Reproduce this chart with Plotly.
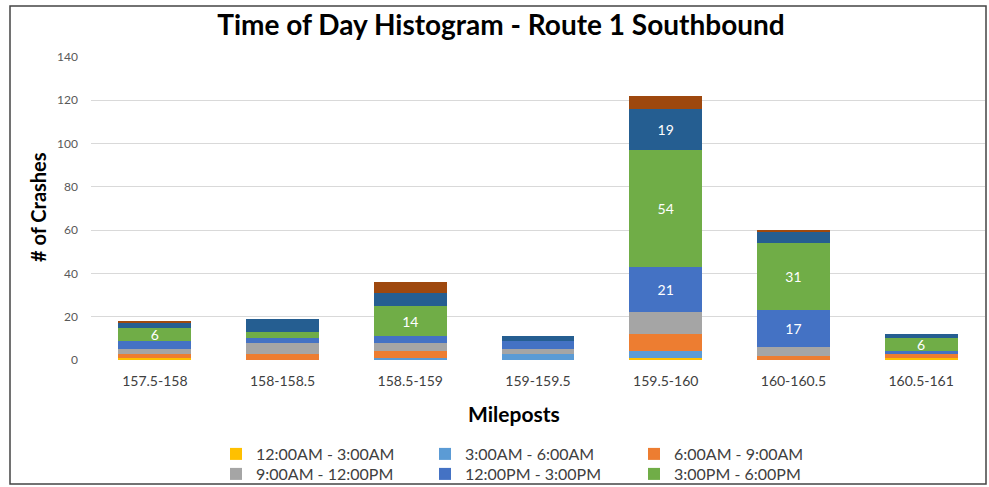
import plotly.graph_objects as go

categories = ["157.5-158", "158-158.5", "158.5-159", "159-159.5", "159.5-160", "160-160.5", "160.5-161"]

series_names = [
    "12:00AM - 3:00AM", "3:00AM - 6:00AM", "6:00AM - 9:00AM", "9:00AM - 12:00PM",
    "12:00PM - 3:00PM", "3:00PM - 6:00PM", "6:00PM - 9:00PM", "9:00PM - 12:00AM",
]
am_12_3 = [1, 0, 0, 0, 1, 0, 1]
am_3_6 = [0, 0, 1, 3, 3, 0, 0]
am_6_9 = [2, 3, 3, 0, 8, 2, 2]
am_9_pm_12 = [2, 5, 4, 2, 10, 4, 0]
pm_12_3 = [4, 2, 3, 4, 21, 17, 1]
pm_3_6 = [6, 3, 14, 0, 54, 31, 6]
pm_6_9 = [2, 6, 6, 2, 19, 5, 2]
pm_9_am_12 = [1, 0, 5, 0, 6, 1, 0]
series_values = [am_12_3, am_3_6, am_6_9, am_9_pm_12, pm_12_3, pm_3_6, pm_6_9, pm_9_am_12]

colors = ["#FFC000", "#5B9BD5", "#ED7D31", "#A5A5A5", "#4472C4", "#70AD47", "#255E91", "#9E480E"]

# which segments carry a data label
labeled = {
    "12:00PM - 3:00PM": ["159.5-160", "160-160.5"],
    "3:00PM - 6:00PM": ["157.5-158", "158.5-159", "159.5-160", "160-160.5", "160.5-161"],
    "6:00PM - 9:00PM": ["159.5-160"],
}

FONT = "Lato"
W, H = 989, 487
L, R, T, B = 91, 4, 57, 127
pw, ph = W - L - R, H - T - B

# legend grid: 3 columns x 2 visible rows (last two entries are cropped off in the reference)
leg_cols_x = [216, 425, 634]
leg_rows_top = [437, 457]
legend_ids = ["legend", "legend2", "legend3", "legend4", "legend5", "legend6", None, None]

fig = go.Figure()
for name, vals, col, lg in zip(series_names, series_values, colors, legend_ids):
    lab = labeled.get(name, [])
    text = [str(v) if (c in lab and v > 0) else "" for c, v in zip(categories, vals)]
    kw = dict(legend=lg) if lg else dict(showlegend=False)
    fig.add_trace(go.Bar(
        x=categories, y=vals, name=name, marker=dict(color=col, line=dict(width=0)),
        text=text, textposition="inside", insidetextanchor="middle", textangle=0,
        textfont=dict(color="white", size=14, family=FONT), constraintext="none",
        **kw,
    ))


def px(x):
    return (x - L) / pw


def py(y):
    return (H - B - y) / ph


leg_common = dict(orientation="v", yanchor="top", xanchor="left", traceorder="normal",
                  xref="container", yref="container",
                  font=dict(family=FONT, size=16, color="#404040"),
                  bgcolor="rgba(0,0,0,0)", tracegroupgap=0, itemwidth=30)

legends = {}
for i, lg in enumerate(legend_ids[:6]):
    r, c = divmod(i, 3)
    legends[lg] = dict(x=leg_cols_x[c] / W, y=1 - leg_rows_top[r] / H, **leg_common)

fig.update_layout(
    width=W, height=H,
    margin=dict(l=L, r=R, t=T, b=B, autoexpand=False),
    barmode="stack", bargap=0.43,
    plot_bgcolor="white", paper_bgcolor="white",
    font=dict(family=FONT, color="#404040"),
    title=dict(text="<b>Time of Day Histogram - Route 1 Southbound</b>",
               x=501 / W, xanchor="center", xref="container",
               y=1 - 25 / H, yanchor="middle", yref="container",
               font=dict(family=FONT, size=28, color="#000000")),
    xaxis=dict(showgrid=False, showline=False, ticks="", zeroline=False, automargin=False,
               tickfont=dict(family=FONT, size=14, color="#404040"), ticklabelstandoff=11),
    yaxis=dict(range=[0, 140], dtick=20, tick0=0, showgrid=True, gridcolor="#D9D9D9",
               gridwidth=1, zeroline=False, showline=False, ticks="", automargin=False,
               tickfont=dict(family=FONT, size=12, color="#595959"), ticklabelstandoff=12),
    annotations=[
        dict(text="<b># of Crashes</b>", xref="paper", yref="paper", x=px(38), y=py(207),
             textangle=-90, showarrow=False, xanchor="center", yanchor="middle",
             font=dict(family=FONT, size=20, color="#000000")),
        dict(text="<b>Mileposts</b>", xref="paper", yref="paper", x=px(514), y=py(413),
             showarrow=False, xanchor="center", yanchor="middle",
             font=dict(family=FONT, size=21, color="#000000")),
    ],
    shapes=[
        dict(type="rect", xref="paper", yref="paper", x0=px(10), x1=px(986), y0=py(484), y1=py(6),
             line=dict(color="#444444", width=1.5), fillcolor="rgba(0,0,0,0)", layer="below"),
    ],
    **legends,
)

fig.write_html("out.html", config={"displayModeBar": False},
               post_script="document.body.style.margin='0px';")
